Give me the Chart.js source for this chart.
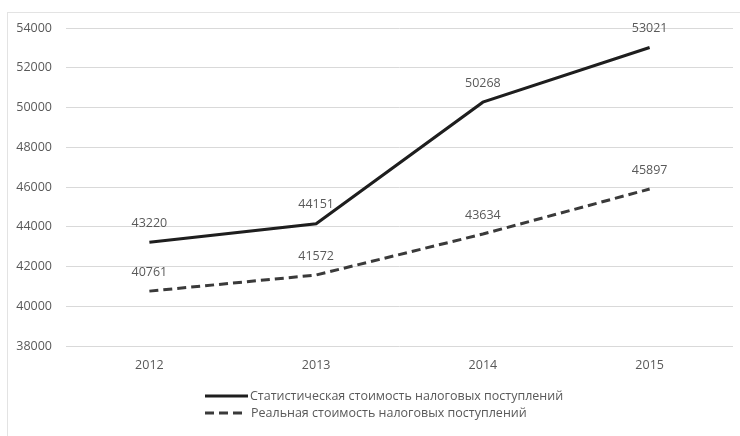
<!DOCTYPE html>
<html>
<head>
<meta charset="utf-8">
<script src="https://cdn.jsdelivr.net/npm/chart.js@4/dist/chart.umd.min.js"></script>
<style>
  html, body { margin: 0; padding: 0; background: #fff; overflow: hidden; }
  #wrap { position: relative; width: 740px; height: 436px; }
  #frame { position: absolute; left: 7px; top: 12px; width: 760px; height: 460px; border: 1px solid #e3e3e3; box-sizing: border-box; }
  #c { position: absolute; left: 0; top: 0; }
</style>
</head>
<body>
<div id="wrap">
  <div id="frame"></div>
  <canvas id="c" width="740" height="436"></canvas>
</div>
<script>
const categories = ['2012', '2013', '2014', '2015'];
const statisticalValues = [43220, 44151, 50268, 53021];
const realValues = [40761, 41572, 43634, 45897];
const seriesNames = ['Статистическая стоимость налоговых поступлений', 'Реальная стоимость налоговых поступлений'];
const yMin = 38000, yMax = 54000, yStep = 2000;

const FONT = '"Open Sans", "DejaVu Sans", sans-serif';
const TEXT = '#595959';
const FS = 12.5;

const valueLabels = {
  id: 'valueLabels',
  afterDatasetsDraw(chart) {
    const ctx = chart.ctx;
    ctx.save();
    ctx.font = FS + 'px ' + FONT;
    ctx.fillStyle = TEXT;
    ctx.textAlign = 'center';
    ctx.textBaseline = 'middle';
    chart.data.datasets.forEach((ds, i) => {
      chart.getDatasetMeta(i).data.forEach((pt, j) => {
        ctx.fillText(String(ds.data[j]), pt.x, pt.y - 19);
      });
    });
    ctx.restore();
  }
};

const customLegend = {
  id: 'customLegend',
  afterDraw(chart) {
    const ctx = chart.ctx;
    ctx.save();
    ctx.font = FS + 'px ' + FONT;
    ctx.textBaseline = 'middle';
    ctx.textAlign = 'left';
    const rows = [396, 413];
    chart.data.datasets.forEach((ds, i) => {
      const y = rows[i];
      ctx.strokeStyle = ds.borderColor;
      ctx.lineWidth = ds.borderWidth;
      ctx.setLineDash(ds.borderDash || []);
      ctx.beginPath();
      ctx.moveTo(205, y);
      ctx.lineTo(i === 0 ? 248 : 243, y);
      ctx.stroke();
      ctx.setLineDash([]);
      ctx.fillStyle = TEXT;
      ctx.fillText(ds.label, i === 0 ? 250 : 251, y);
    });
    ctx.restore();
  }
};

new Chart(document.getElementById('c'), {
  type: 'line',
  data: {
    labels: categories,
    datasets: [
      {
        label: seriesNames[0],
        data: statisticalValues,
        borderColor: '#1e1e1e',
        borderWidth: 3,
        pointRadius: 0,
        tension: 0,
        fill: false
      },
      {
        label: seriesNames[1],
        data: realValues,
        borderColor: '#3a3a3a',
        borderWidth: 3,
        borderDash: [9, 5],
        pointRadius: 0,
        tension: 0,
        fill: false
      }
    ]
  },
  options: {
    responsive: false,
    animation: false,
    layout: { padding: { left: 0, right: 7, top: 28, bottom: 60 } },
    plugins: {
      legend: { display: false },
      tooltip: { enabled: false }
    },
    scales: {
      x: {
        offset: true,
        grid: { display: false, drawTicks: false },
        border: { display: false },
        ticks: { color: TEXT, font: { family: FONT, size: FS }, padding: 12 },
        afterFit(scale) { scale.height = 30; }
      },
      y: {
        min: yMin,
        max: yMax,
        grid: { color: '#d9d9d9', lineWidth: 1, drawTicks: false },
        border: { display: false },
        ticks: { stepSize: yStep, color: TEXT, font: { family: FONT, size: FS }, padding: 14,
                 callback: (v) => String(v) },
        afterFit(scale) { scale.width = 66; }
      }
    }
  },
  plugins: [valueLabels, customLegend]
});
</script>
</body>
</html>
